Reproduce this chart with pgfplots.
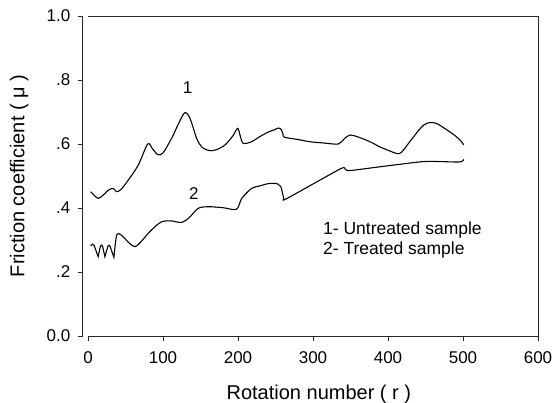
\documentclass[border=0pt]{standalone}
\usepackage{fontspec}
\setmainfont{Liberation Sans}
\usepackage{pgfplots}
\pgfplotsset{compat=1.18}
\begin{document}
\begin{tikzpicture}
\begin{axis}[
  scale only axis, width=455.25bp, height=320bp,
  xmin=-7, xmax=600, ymin=0, ymax=1,
  clip=false,
  axis x line*=bottom, axis y line*=left,
  axis line style={draw=none},
  xtick={0,100,200,300,400,500,600},
  ytick={0,0.2,0.4,0.6,0.8,1},
  yticklabels={0.0,.2,.4,.6,.8,1.0},
  tick align=outside, major tick length=5bp,
  tick style={black!85, line width=0.8bp},
  /pgf/number format/assume math mode=true,
  ticklabel style={font=\fontsize{17bp}{20bp}\selectfont},
  xticklabel style={yshift=-7bp},
  yticklabel style={xshift=-4bp},
  xlabel={Rotation number ( r )},
  ylabel={Friction coefficient ( μ )},
  label style={font=\fontsize{20bp}{24bp}\selectfont},
  x label style={at={(axis description cs:0.5,0)}, anchor=base, yshift=-63bp, xshift=8.5bp},
  y label style={at={(axis description cs:0,0.5)}, anchor=center, rotate=0, yshift=63.5bp},
]
\draw[black!85, line width=0.9bp] (axis cs:-7,0) -- (axis cs:-7,1);
\draw[black!85, line width=0.9bp] (axis cs:0,1) -- (axis cs:600,1) -- (axis cs:600,0) -- (axis cs:0,0);
\coordinate (SW) at (rel axis cs:0,0);
\coordinate (NE) at (rel axis cs:1,1);

% curve 1 : untreated
\addplot[black, line width=1.1bp, smooth, tension=0.5] coordinates {
(3.6,0.451) (8,0.440) (13.8,0.430) (20,0.440) (28,0.457) (33.8,0.461) (38,0.451)
(44,0.458) (53.8,0.4875) (67,0.534) (79.6,0.600) (86,0.585) (93,0.567) (100,0.572)
(112,0.620) (122,0.670) (129.3,0.698) (136,0.680) (145,0.617) (152,0.590)
(162.7,0.579) (172,0.583) (182.7,0.597) (193,0.625) (199.6,0.649) (203,0.625)
(207,0.602) (218,0.607) (229,0.623) (240,0.637) (249,0.645) (254,0.650)
(258,0.644) (260,0.630) (262,0.621) (280,0.614) (296,0.607) (315,0.603)
(333.8,0.600) (342,0.617) (349.3,0.628) (360,0.622) (376,0.607) (390,0.590)
(402.7,0.578) (412,0.570) (418,0.574) (429,0.607) (440,0.640) (448,0.660)
(456,0.667) (465,0.664) (478,0.645) (490,0.625) (497,0.610) (501,0.597)
};

% curve 2 : treated (zigzag start)
\addplot[black, line width=1.1bp] coordinates {
(3.6,0.282) (6,0.287) (8,0.284) (13.5,0.248) (16.5,0.280) (18,0.284) (19.5,0.280)
(22.5,0.248) (26.5,0.280) (28,0.284) (29.5,0.280) (34.5,0.246) (36.5,0.290) (38,0.315)
};
\addplot[black, line width=1.1bp, smooth, tension=0.5] coordinates {
(38,0.315) (41,0.320) (47,0.310) (55,0.290) (62.7,0.279) (70,0.293) (80.4,0.321)
(90,0.343) (98.2,0.357) (110,0.360) (125,0.355) (135,0.370) (147,0.399)
(160.4,0.404) (180,0.401) (198,0.396) (205,0.430) (218,0.461) (229,0.469)
(240,0.476) (247,0.477) (253,0.475) (257,0.467) (259.5,0.445) (261,0.430)
(263,0.427) (300,0.475) (338,0.524) (343,0.521) (349,0.517) (380,0.526)
(407,0.534) (447,0.545) (470,0.545) (496,0.544) (501,0.552)
};

\node[font=\fontsize{17bp}{20bp}\selectfont] at (axis cs:132.7,0.775) {1};
\node[font=\fontsize{17bp}{20bp}\selectfont] at (axis cs:141,0.446) {2};
\node[font=\fontsize{17.5bp}{21bp}\selectfont, anchor=base west, inner sep=0pt] at (axis cs:313.3,0.318) {1- Untreated sample};
\node[font=\fontsize{17.5bp}{21bp}\selectfont, anchor=base west, inner sep=0pt] at (axis cs:313.3,0.256) {2- Treated sample};
\end{axis}
\pgfresetboundingbox
\path ([shift={(-82.75bp,-67bp)}]SW) rectangle ([shift={(18bp,16bp)}]NE);
\end{tikzpicture}
\end{document}
